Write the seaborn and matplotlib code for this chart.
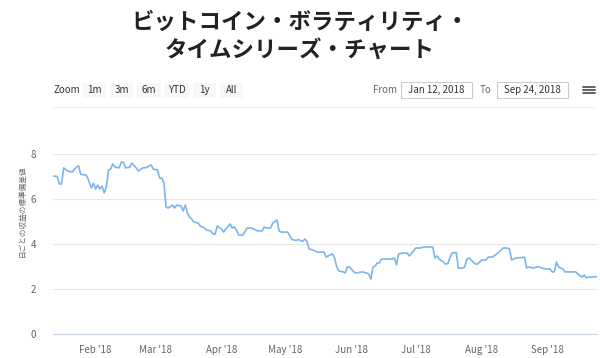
import pandas as pd
import numpy as np
import seaborn as sns
import matplotlib.pyplot as plt
import matplotlib.dates as mdates
from matplotlib.patches import Rectangle
from matplotlib.lines import Line2D

#data
dates = ["2018-01-12","2018-01-14","2018-01-15","2018-01-16","2018-01-17","2018-01-19","2018-01-21",
         "2018-01-23","2018-01-24","2018-01-25","2018-01-27","2018-01-28","2018-01-30","2018-01-31",
         "2018-02-01","2018-02-02","2018-02-03","2018-02-04","2018-02-05","2018-02-06","2018-02-07",
         "2018-02-08","2018-02-09","2018-02-10","2018-02-12","2018-02-13","2018-02-14","2018-02-15",
         "2018-02-17","2018-02-18","2018-02-20","2018-02-21","2018-02-23","2018-02-25","2018-02-26",
         "2018-02-27","2018-02-28","2018-03-02","2018-03-03","2018-03-04","2018-03-05","2018-03-06",
         "2018-03-07","2018-03-09","2018-03-10","2018-03-11","2018-03-13","2018-03-14","2018-03-15",
         "2018-03-16","2018-03-17","2018-03-18","2018-03-19","2018-03-21","2018-03-22","2018-03-24",
         "2018-03-25","2018-03-27","2018-03-28","2018-03-29","2018-03-30","2018-04-01","2018-04-02",
         "2018-04-03","2018-04-05","2018-04-06","2018-04-07","2018-04-08","2018-04-09","2018-04-11",
         "2018-04-13","2018-04-15","2018-04-16","2018-04-18","2018-04-20","2018-04-21","2018-04-22",
         "2018-04-24","2018-04-25","2018-04-27","2018-04-28","2018-04-29","2018-05-02","2018-05-03",
         "2018-05-04","2018-05-06","2018-05-07","2018-05-09","2018-05-10","2018-05-11","2018-05-12",
         "2018-05-14","2018-05-16","2018-05-19","2018-05-20","2018-05-21","2018-05-23","2018-05-24",
         "2018-05-25","2018-05-26","2018-05-28","2018-05-29","2018-05-30","2018-05-31","2018-06-02",
         "2018-06-03","2018-06-06","2018-06-08","2018-06-09","2018-06-10","2018-06-11","2018-06-12",
         "2018-06-13","2018-06-14","2018-06-15","2018-06-18","2018-06-20","2018-06-21","2018-06-22",
         "2018-06-23","2018-06-25","2018-06-27","2018-06-28","2018-06-30","2018-07-01","2018-07-03",
         "2018-07-05","2018-07-08","2018-07-09","2018-07-10","2018-07-11","2018-07-12","2018-07-14",
         "2018-07-15","2018-07-16","2018-07-18","2018-07-20","2018-07-21","2018-07-23","2018-07-24",
         "2018-07-25","2018-07-26","2018-07-28","2018-07-29","2018-07-30","2018-08-01","2018-08-03",
         "2018-08-04","2018-08-06","2018-08-08","2018-08-09","2018-08-11","2018-08-13","2018-08-14",
         "2018-08-15","2018-08-17","2018-08-20","2018-08-21","2018-08-22","2018-08-23","2018-08-25",
         "2018-08-27","2018-08-28","2018-08-29","2018-08-31","2018-09-02","2018-09-03","2018-09-04",
         "2018-09-05","2018-09-06","2018-09-08","2018-09-09","2018-09-11","2018-09-14","2018-09-15",
         "2018-09-17","2018-09-18","2018-09-19","2018-09-20","2018-09-22","2018-09-24"]
values = [7.02,7.0,6.67,6.67,7.38,7.24,7.2,
          7.42,7.47,7.1,7.07,7.0,6.49,6.7,
          6.44,6.62,6.44,6.58,6.27,6.53,7.29,
          7.33,7.56,7.42,7.38,7.64,7.64,7.38,
          7.42,7.6,7.38,7.24,7.38,7.4,7.47,
          7.51,7.33,7.29,6.93,6.93,6.71,5.64,
          5.6,5.73,5.6,5.73,5.69,5.47,5.73,
          5.38,5.2,5.11,4.98,4.93,4.8,4.71,
          4.62,4.58,4.44,4.44,4.8,4.67,4.53,
          4.67,4.89,4.71,4.76,4.62,4.4,4.4,
          4.71,4.71,4.67,4.58,4.58,4.76,4.71,
          4.71,4.93,5.07,4.58,4.53,4.53,4.36,
          4.2,4.16,4.2,4.11,4.22,4.13,3.78,
          3.73,3.64,3.64,3.42,3.47,3.56,3.38,
          2.98,2.8,2.76,2.71,2.98,2.98,2.76,
          2.71,2.76,2.71,2.67,2.44,2.98,3.02,
          3.16,3.16,3.33,3.33,3.33,3.38,3.07,
          3.56,3.6,3.6,3.47,3.69,3.82,3.82,
          3.87,3.87,3.87,3.38,3.47,3.33,3.2,
          3.11,3.13,3.6,3.62,2.93,2.93,2.98,
          3.33,3.38,3.2,3.11,3.11,3.29,3.29,
          3.42,3.42,3.56,3.64,3.82,3.82,3.78,
          3.29,3.38,3.4,3.42,2.93,2.98,2.93,
          2.98,2.98,2.93,2.89,2.89,2.76,2.76,
          3.2,2.98,2.89,2.76,2.76,2.76,2.67,
          2.53,2.62,2.49,2.53,2.53,2.55]

title = "ビットコイン・ボラティリティ・\nタイムシリーズ・チャート"
ylabel = "日ごとの収益の標準偏差値"
zoom_buttons = ["1m", "3m", "6m", "YTD", "1y", "All"]
date_from = "Jan 12, 2018"
date_to = "Sep 24, 2018"
yticks = [0, 2, 4, 6, 8]

df = pd.DataFrame({"date": pd.to_datetime(dates), "vol": values})

sns.set_style("white")
plt.rcParams['font.family'] = ['Noto Sans CJK JP', 'DejaVu Sans']

W, H = 600, 358
fig = plt.figure(figsize=(6, 3.58), dpi=100)

def fx(x):
    return x / W

def fy(y):
    return 1 - y / H

#plot area
ax = fig.add_axes([fx(53), fy(334), fx(597) - fx(53), fy(154) - fy(334)])
sns.lineplot(data=df, x="date", y="vol", ax=ax, color="#7cb5ec", linewidth=1.2)

ax.set_xlim(pd.Timestamp("2018-01-12"), pd.Timestamp("2018-09-24"))
ax.set_ylim(0, 8)
ax.set_yticks(yticks)
ax.grid(axis="y", color="#e6e6e6", linewidth=0.8)
ax.grid(axis="x", visible=False)
ax.set_xlabel("")
ax.set_ylabel("")
for s in ["top", "right", "left"]:
    ax.spines[s].set_visible(False)
ax.spines["bottom"].set_color("#ccd6eb")
ax.spines["bottom"].set_linewidth(0.8)

ax.xaxis.set_major_locator(mdates.MonthLocator())
ax.xaxis.set_major_formatter(mdates.DateFormatter("%b '%y"))
ax.tick_params(axis="x", length=5, width=0.8, color="#ccd6eb", labelsize=7, labelcolor="#666666", pad=3)
ax.tick_params(axis="y", length=0, labelsize=7, labelcolor="#666666", pad=12)

#y axis title
fig.text(fx(22), fy(211), ylabel, rotation=90, ha="center", va="center", fontsize=5.5, color="#666666")

#title
fig.text(0.5, fy(37), title, ha="center", va="center", fontsize=16.2, fontweight="bold",
         color="#222222", linespacing=1.3)

#range selector
fig.text(fx(53), fy(90), "Zoom", ha="left", va="center", fontsize=7, color="#333333")
btn_x = [82, 110, 137, 164, 193, 220]
btn_w = [24, 23, 24, 25, 23, 23]
for lab, bx, bw in zip(zoom_buttons, btn_x, btn_w):
    fig.add_artist(Rectangle((fx(bx), fy(98)), bw / W, 15 / H, transform=fig.transFigure,
                             facecolor="#f7f7f7", edgecolor="none"))
    fig.text(fx(bx + bw / 2), fy(90), lab, ha="center", va="center", fontsize=7, color="#333333")

fig.text(fx(373), fy(90), "From", ha="left", va="center", fontsize=7, color="#666666")
fig.text(fx(480), fy(90), "To", ha="left", va="center", fontsize=7, color="#666666")
for bx, bw, lab in [(401, 71, date_from), (497, 71, date_to)]:
    fig.add_artist(Rectangle((fx(bx), fy(98)), bw / W, 16 / H, transform=fig.transFigure,
                             facecolor="white", edgecolor="#cccccc", linewidth=0.8))
    fig.text(fx(bx + bw / 2), fy(90), lab, ha="center", va="center", fontsize=7, color="#333333")

for yy in [87, 90, 93]:
    fig.add_artist(Line2D([fx(583), fx(595)], [fy(yy), fy(yy)], transform=fig.transFigure,
                          color="#555555", linewidth=1.3))

fig.add_artist(Line2D([fx(53), fx(595)], [fy(107), fy(107)], transform=fig.transFigure,
                      color="#eeeeee", linewidth=0.8))

fig.savefig("out.png", dpi=100)
